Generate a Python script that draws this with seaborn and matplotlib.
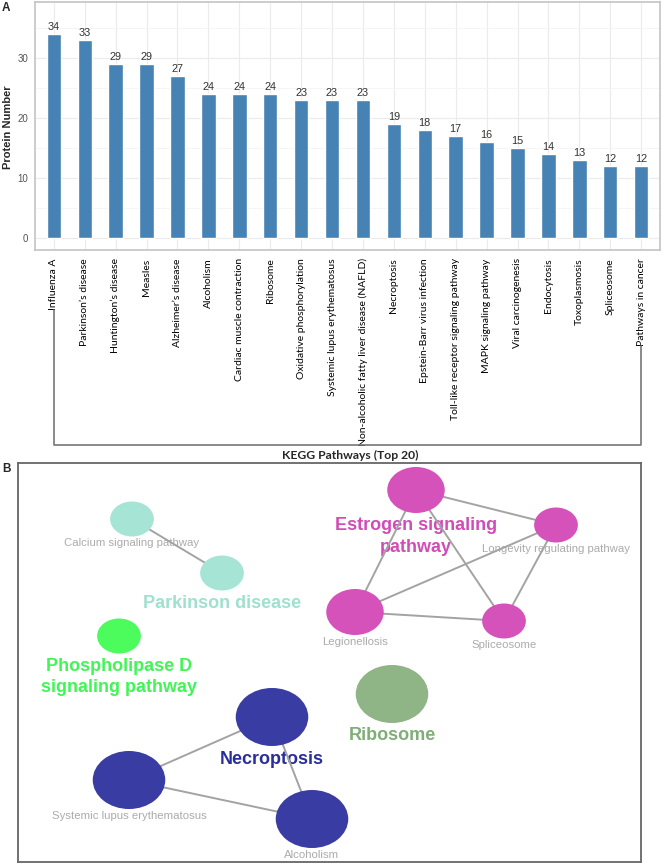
import matplotlib
matplotlib.use("Agg")
import matplotlib.pyplot as plt
import seaborn as sns
import pandas as pd
from matplotlib.patches import Ellipse
from matplotlib.lines import Line2D
from matplotlib.ticker import MultipleLocator

# Panel A data: top 20 KEGG pathways
pathways = ["Influenza A", "Parkinson\u2019s disease", "Huntington\u2019s disease", "Measles",
            "Alzheimer\u2019s disease", "Alcoholism", "Cardiac muscle contraction", "Ribosome",
            "Oxidative phosphorylation", "Systemic lupus erythematosus",
            "Non-alcoholic fatty liver disease (NAFLD)", "Necroptosis",
            "Epstein-Barr virus infection", "Toll-like receptor signaling pathway",
            "MAPK signaling pathway", "Viral carcinogenesis", "Endocytosis",
            "Toxoplasmosis", "Spliceosome", "Pathways in cancer"]
protein_counts = [34, 33, 29, 29, 27, 24, 24, 24, 23, 23, 23, 19, 18, 17, 16, 15, 14, 13, 12, 12]

# Panel B data: enrichment network
node_names = ["Calcium signaling pathway", "Parkinson disease", "Phospholipase D signaling pathway",
              "Estrogen signaling pathway", "Longevity regulating pathway", "Legionellosis",
              "Spliceosome", "Ribosome", "Necroptosis", "Systemic lupus erythematosus", "Alcoholism"]
node_cluster = [0, 0, 1, 2, 2, 2, 2, 3, 4, 4, 4]
node_x = [132, 222, 119, 416, 556, 355, 504, 392, 272, 129, 312]
node_y = [519, 573, 636, 490, 525, 612, 621, 694, 717, 780, 819]
node_level = [1, 1, 1, 2, 1, 2, 1, 3, 3, 3, 3]
cluster_leader = [1, 2, 3, 7, 8]
cluster_title = ["Parkinson disease", "Phospholipase D\nsignaling pathway",
                 "Estrogen signaling\npathway", "Ribosome", "Necroptosis"]
edges = [(0, 1), (3, 4), (3, 5), (3, 6), (4, 5), (4, 6), (5, 6), (8, 9), (8, 10), (9, 10)]

node_colors = ["#a6e5d5", "#4cfb5c", "#d552bb", "#8fb587", "#383ca3"]
title_colors = ["#9fe0cf", "#42f556", "#d24cb8", "#7fae77", "#2a2e9a"]
level_radius = {1: 17.5, 2: 23, 3: 29}

sns.set_style("white")
plt.rcParams["font.family"] = ["Liberation Sans", "DejaVu Sans"]

fig = plt.figure(figsize=(6.66, 8.66), dpi=100)
W, H = 666, 866

# ---------------- Panel A ----------------
ax = fig.add_axes([35 / W, 1 - 250 / H, 625 / W, 248 / H])
df = pd.DataFrame({"pathway": pathways, "count": protein_counts})
sns.barplot(data=df, x="pathway", y="count", color="#4682b4", saturation=1,
            width=0.47, ax=ax, zorder=3)
ax.bar_label(ax.containers[0], padding=1.5, fontsize=7.8, color="#333333")
ax.set_xlim(-0.61, 19.61)
ax.set_ylim(-1.94, 39.25)
ax.set_yticks([0, 10, 20, 30])
ax.yaxis.set_minor_locator(MultipleLocator(5))
ax.set_axisbelow(True)
ax.grid(which="major", color="#ebebeb", lw=0.8)
ax.grid(which="minor", axis="y", color="#f4f4f4", lw=0.6)
ax.tick_params(axis="y", which="major", labelsize=7, labelcolor="#555555",
               color="#777777", length=3, width=0.7, pad=2)
ax.tick_params(axis="y", which="minor", length=0)
ax.tick_params(axis="x", color="#777777", length=3, width=0.7, pad=3)
ax.set_xticks(range(len(pathways)))
ax.set_xticklabels(pathways, rotation=90, fontsize=7.5, family=["Lato", "DejaVu Sans"],
                   color="black")
ax.set_xlabel("")
ax.set_ylabel("")
for s in ax.spines.values():
    s.set_color("#c4c4c4")
    s.set_linewidth(1.2)

fig.text(8 / W, 1 - 127 / H, "Protein Number", rotation=90, ha="center", va="center",
         fontsize=8, fontweight="bold")
fig.text(350 / W, 1 - 455 / H, "KEGG Pathways (Top 20)", ha="center", va="center",
         fontsize=8.7, fontweight="bold", family=["Lato", "DejaVu Sans"])
fig.text(2 / W, 1 - 2 / H, "A", ha="left", va="top", fontsize=8.5, fontweight="bold")
fig.text(2 / W, 1 - 463 / H, "B", ha="left", va="top", fontsize=8.5, fontweight="bold")

# bracket below the tick labels
fig.canvas.draw()
rend = fig.canvas.get_renderer()
labs = ax.get_xticklabels()
first_bot = labs[0].get_window_extent(rend).y0
last_bot = labs[-1].get_window_extent(rend).y0
x_first = ax.transData.transform((0, 0))[0]
x_last = ax.transData.transform((len(pathways) - 1, 0))[0]
y_base = H - 445
fig.add_artist(Line2D([x_first / W, x_first / W, x_last / W, x_last / W],
                      [first_bot / H, y_base / H, y_base / H, last_bot / H],
                      transform=fig.transFigure, color="#777777", lw=1.2))

# ---------------- Panel B ----------------
bx = fig.add_axes([18 / W, 1 - 862 / H, 623 / W, 399 / H])
bx.set_xlim(18, 641)
bx.set_ylim(862, 463)
bx.set_xticks([])
bx.set_yticks([])
for s in bx.spines.values():
    s.set_color("#666666")
    s.set_linewidth(1.3)

for a, b in edges:
    bx.plot([node_x[a], node_x[b]], [node_y[a], node_y[b]], color="#a3a3a3", lw=1.4, zorder=2)

for i, name in enumerate(node_names):
    ry = level_radius[node_level[i]]
    c = node_colors[node_cluster[i]]
    bx.add_patch(Ellipse((node_x[i], node_y[i]), 2 * ry * 1.25, 2 * ry,
                         facecolor=c, edgecolor="none", zorder=3))
    if i not in cluster_leader:
        bx.text(node_x[i], node_y[i] + ry + 7, name, ha="center", va="center",
                fontsize=8.2, color="#ababab", zorder=1)

# cluster titles, one text per line
for k, i in enumerate(cluster_leader):
    ry = level_radius[node_level[i]]
    for j, line in enumerate(cluster_title[k].split("\n")):
        bx.text(node_x[i], node_y[i] + ry + 13 + j * 21.5, line, ha="center", va="center",
                fontsize=13, fontweight="bold", color=title_colors[k], zorder=1)

fig.savefig("out.png", dpi=100)
